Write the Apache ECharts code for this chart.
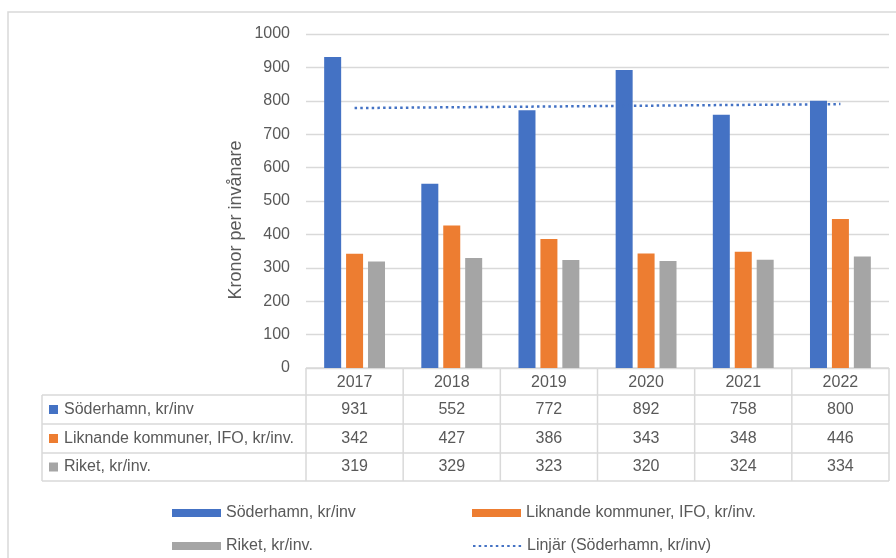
<!DOCTYPE html>
<html>
<head>
<meta charset="utf-8">
<script src="https://cdn.jsdelivr.net/npm/echarts@6/dist/echarts.min.js"></script>
<style>
  html, body { margin: 0; padding: 0; background: #fff; }
  #chart { width: 896px; height: 558px; }
</style>
</head>
<body>
<div id="chart"></div>
<script>
// Kostnader per invånare, 2017–2022
const years = ['2017', '2018', '2019', '2020', '2021', '2022'];
const soderhamn = [931, 552, 772, 892, 758, 800];
const liknande = [342, 427, 386, 343, 348, 446];
const riket = [319, 329, 323, 320, 324, 334];

const seriesNames = [
  'Söderhamn, kr/inv',
  'Liknande kommuner, IFO, kr/inv.',
  'Riket, kr/inv.'
];
const trendName = 'Linjär (Söderhamn, kr/inv)';
const yTitle = 'Kronor per invånare';
const colors = ['#4472c4', '#ed7d31', '#a5a5a5'];
const yTicks = { min: 0, max: 1000, step: 100 };

// Least-squares linear trend through the Söderhamn values
function linearTrend(vals) {
  const n = vals.length;
  const mx = (n + 1) / 2;
  const my = vals.reduce((a, b) => a + b, 0) / n;
  let sxy = 0, sxx = 0;
  vals.forEach((v, i) => { const dx = (i + 1) - mx; sxy += dx * (v - my); sxx += dx * dx; });
  const k = sxy / sxx;
  return vals.map((_, i) => +(my + k * ((i + 1) - mx)).toFixed(2));
}
const trend = linearTrend(soderhamn);

// Layout
const W = 896, H = 558;
const gridL = 306, gridR = 889, gridT = 34, gridB = 368;
const cellW = (gridR - gridL) / years.length;
const tableL = 42;
const rowY = [368, 395, 424, 453, 481];
const FONT = '"Liberation Sans", Arial, sans-serif';
const TXT = '#595959';
const LINE = '#d9d9d9';

const chart = echarts.init(document.getElementById('chart'), null, { renderer: 'canvas' });

const graphics = [];
// chart frame
graphics.push({
  type: 'rect', shape: { x: 8, y: 12, width: W + 20, height: H + 20 },
  style: { fill: 'none', stroke: LINE, lineWidth: 1.5 }, silent: true
});
// value axis title
graphics.push({
  type: 'text', x: 236, y: 220, rotation: Math.PI / 2,
  style: { text: yTitle, fill: TXT, font: '18px ' + FONT, align: 'center', verticalAlign: 'middle' },
  silent: true
});

// Data table under the plot
function hline(x1, x2, y) {
  graphics.push({ type: 'line', shape: { x1, y1: y, x2, y2: y }, style: { stroke: LINE, lineWidth: 1.5 }, silent: true });
}
function vline(x, y1, y2) {
  graphics.push({ type: 'line', shape: { x1: x, y1, x2: x, y2 }, style: { stroke: LINE, lineWidth: 1.5 }, silent: true });
}
hline(gridL, gridR, rowY[0]);
for (let r = 1; r < rowY.length; r++) hline(tableL, gridR, rowY[r]);
vline(tableL, rowY[1], rowY[4]);
for (let c = 0; c <= years.length; c++) vline(gridL + c * cellW, rowY[0], rowY[4]);

const rows = [soderhamn, liknande, riket];
rows.forEach((vals, r) => {
  const cy = (rowY[r + 1] + rowY[r + 2]) / 2;
  graphics.push({
    type: 'rect', shape: { x: 49, y: cy - 4.5, width: 9, height: 9 },
    style: { fill: colors[r] }, silent: true
  });
  graphics.push({
    type: 'text', x: 64, y: cy,
    style: { text: seriesNames[r], fill: TXT, font: '16px ' + FONT, verticalAlign: 'middle', align: 'left' },
    silent: true
  });
  vals.forEach((v, c) => {
    graphics.push({
      type: 'text', x: gridL + (c + 0.5) * cellW, y: cy,
      style: { text: String(v), fill: TXT, font: '16px ' + FONT, verticalAlign: 'middle', align: 'center' },
      silent: true
    });
  });
});

function legendAt(item, left, top) {
  return {
    data: [item],
    left, top,
    itemWidth: 49, itemHeight: 8, itemGap: 0,
    textStyle: { color: TXT, fontSize: 16, fontFamily: FONT },
    selectedMode: false
  };
}

chart.setOption({
  animation: false,
  backgroundColor: '#fff',
  textStyle: { fontFamily: FONT },
  grid: { left: gridL, top: gridT, width: gridR - gridL, height: gridB - gridT, containLabel: false },
  legend: [
    legendAt({ name: seriesNames[0], icon: 'rect' }, 167, 500),
    legendAt({ name: seriesNames[1], icon: 'rect' }, 467, 500),
    legendAt({ name: seriesNames[2], icon: 'rect' }, 167, 533),
    legendAt({ name: trendName, itemStyle: { opacity: 0 } }, 467, 533)
  ],
  xAxis: {
    type: 'category',
    data: years,
    axisLine: { show: false },
    axisTick: { show: false },
    axisLabel: { color: TXT, fontSize: 16, fontFamily: FONT, margin: 7 },
    splitLine: { show: false }
  },
  yAxis: {
    type: 'value',
    min: yTicks.min, max: yTicks.max, interval: yTicks.step,
    axisLine: { show: false },
    axisTick: { show: false },
    axisLabel: { color: TXT, fontSize: 16, fontFamily: FONT, margin: 16, formatter: v => String(v) },
    splitLine: { lineStyle: { color: LINE, width: 1.3 } }
  },
  series: [
    { name: seriesNames[0], type: 'bar', data: soderhamn, barWidth: 17, barGap: '29%', itemStyle: { color: colors[0] } },
    { name: seriesNames[1], type: 'bar', data: liknande, barWidth: 17, barGap: '29%', itemStyle: { color: colors[1] } },
    { name: seriesNames[2], type: 'bar', data: riket, barWidth: 17, barGap: '29%', itemStyle: { color: colors[2] } },
    {
      name: trendName, type: 'line', data: trend,
      symbol: 'none', showSymbol: false,
      lineStyle: { color: colors[0], width: 2.5, type: [2.5, 3.2], cap: 'butt' },
      itemStyle: { color: colors[0] },
      z: 5
    }
  ],
  graphic: graphics
});
</script>
</body>
</html>
